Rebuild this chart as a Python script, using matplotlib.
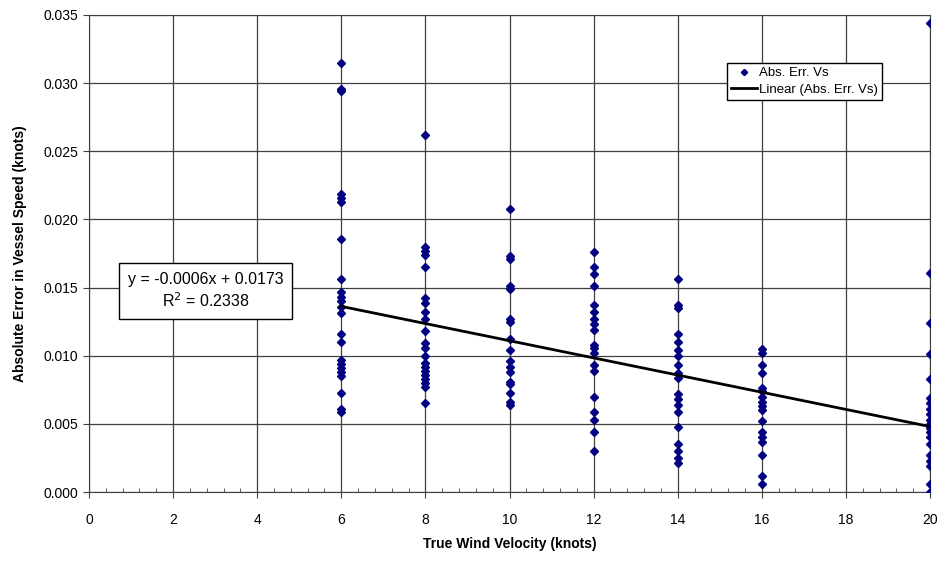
import numpy as np
import matplotlib
matplotlib.use("Agg")
import matplotlib.pyplot as plt
from matplotlib.ticker import MultipleLocator

plt.rcParams['font.family'] = ['Liberation Sans', 'DejaVu Sans']

# wind velocity groups and the absolute errors read for each one
v6 = [0.0315, 0.0296, 0.0294, 0.0219, 0.0216, 0.0213, 0.0186, 0.0156, 0.0147, 0.0143, 0.0140,
      0.0136, 0.0131, 0.0116, 0.0110, 0.0097, 0.0094, 0.0091, 0.0088, 0.0085, 0.0073, 0.0061, 0.0059]
v8 = [0.0262, 0.0180, 0.0177, 0.0174, 0.0165, 0.0142, 0.0139, 0.0132, 0.0127, 0.0118, 0.0109,
      0.0106, 0.0100, 0.0095, 0.0092, 0.0089, 0.0086, 0.0083, 0.0080, 0.0077, 0.0065]
v10 = [0.0208, 0.0173, 0.0171, 0.0151, 0.0149, 0.0127, 0.0125, 0.0112, 0.0104, 0.0096, 0.0092,
       0.0088, 0.0081, 0.0079, 0.0073, 0.0066, 0.0064]
v12 = [0.0176, 0.0165, 0.0160, 0.0151, 0.0137, 0.0132, 0.0127, 0.0123, 0.0119, 0.0108, 0.0106,
       0.0102, 0.0093, 0.0089, 0.0070, 0.0059, 0.0053, 0.0044, 0.0030]
v14 = [0.0156, 0.0137, 0.0135, 0.0116, 0.0110, 0.0104, 0.0100, 0.0093, 0.0087, 0.0084, 0.0072,
       0.0068, 0.0064, 0.0059, 0.0048, 0.0035, 0.0030, 0.0025, 0.0021]
v16 = [0.0105, 0.0102, 0.0093, 0.0087, 0.0076, 0.0074, 0.0070, 0.0066, 0.0063, 0.0060, 0.0052,
       0.0044, 0.0040, 0.0037, 0.0027, 0.0012, 0.0006]
v20 = [0.0344, 0.0161, 0.0124, 0.0101, 0.0083, 0.0069, 0.0065, 0.0061, 0.0057, 0.0053, 0.0050,
       0.0047, 0.0044, 0.0040, 0.0035, 0.0027, 0.0023, 0.0019, 0.0006, 0.0000]

groups = {6: v6, 8: v8, 10: v10, 12: v12, 14: v14, 16: v16, 20: v20}

# trend line as drawn in the original (equation label is rounded)
trend_slope = -0.00063
trend_icept = 0.0174
eq_text = "y = -0.0006x + 0.0173\nR$^2$ = 0.2338"

x = np.concatenate([[k] * len(v) for k, v in groups.items()])
y = np.concatenate([v for v in groups.values()])
xl = np.array([x.min(), x.max()])

fig = plt.figure(figsize=(9.45, 5.61), dpi=100)
ax = fig.add_axes([89 / 945, 1 - 492 / 561, (930 - 89) / 945, (492 - 15) / 561])

ax.plot(x, y, 'D', color='#000080', markersize=4, label='Abs. Err. Vs', zorder=3)
ax.plot(xl, trend_icept + trend_slope * xl, color='black', lw=2, label='Linear (Abs. Err. Vs)', zorder=4)

ax.set_xlim(0, 20)
ax.set_ylim(0, 0.035)
ax.xaxis.set_major_locator(MultipleLocator(2))
ax.xaxis.set_minor_locator(MultipleLocator(0.4))
ax.yaxis.set_major_locator(MultipleLocator(0.005))
ax.yaxis.set_major_formatter(plt.FormatStrFormatter('%.3f'))
ax.grid(True, which='major', color='#404040', lw=0.9)
ax.set_axisbelow(True)
ax.tick_params(which='major', direction='out', length=4, labelsize=10, color='#404040')
ax.tick_params(axis='x', which='major', pad=11)
ax.tick_params(which='minor', direction='in', length=3, color='#404040')
for s in ax.spines.values():
    s.set_color('#404040')

ax.set_xlabel('True Wind Velocity (knots)', fontsize=10, fontweight='bold', labelpad=7)
ax.set_ylabel('Absolute Error in Vessel Speed (knots)', fontsize=10, fontweight='bold', labelpad=12)

ax.text(2.78, 0.01475, eq_text, ha='center', va='center', fontsize=11.5, linespacing=1.25,
        bbox=dict(boxstyle='square,pad=0.55', fc='white', ec='black', lw=1))

leg = ax.legend(loc='upper left', bbox_to_anchor=((727 - 89) / 841, 1 - (63 - 15) / 477),
                fontsize=9.5, frameon=True, fancybox=False, edgecolor='black', framealpha=1,
                borderpad=0.3, handlelength=2.0, handletextpad=0.15, labelspacing=0.35,
                borderaxespad=0, markerscale=0.8)
leg.get_frame().set_linewidth(1)

fig.savefig('out.png', dpi=100)
